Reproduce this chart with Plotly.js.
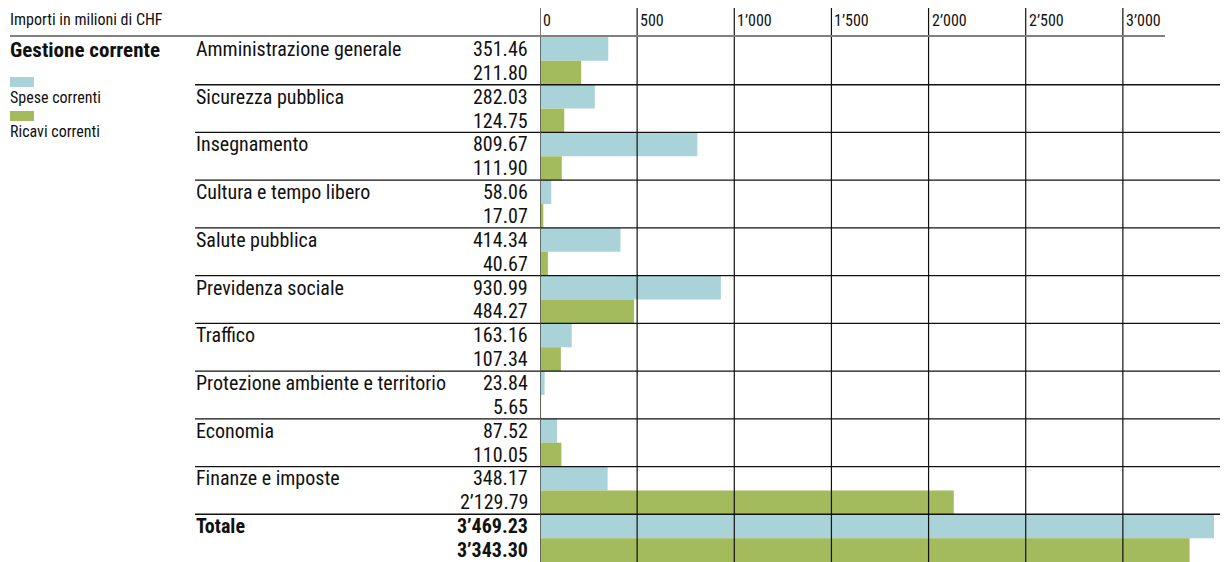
<!DOCTYPE html>
<html>
<head>
<meta charset="utf-8">
<script src="https://cdn.plot.ly/plotly-3.0.1.min.js"></script>
<style>html,body{margin:0;padding:0;background:#fff;}#chart{width:1226px;height:562px;}</style>
</head>
<body>
<div id="chart"></div>
<script>
const categories = ["Amministrazione generale","Sicurezza pubblica","Insegnamento","Cultura e tempo libero","Salute pubblica","Previdenza sociale","Traffico","Protezione ambiente e territorio","Economia","Finanze e imposte","Totale"];
const spese = [351.46,282.03,809.67,58.06,414.34,930.99,163.16,23.84,87.52,348.17,3469.23];
const ricavi = [211.80,124.75,111.90,17.07,40.67,484.27,107.34,5.65,110.05,2129.79,3343.30];
const tickVals = [0,500,1000,1500,2000,2500,3000];
const tickLabels = ["0","500","1’000","1’500","2’000","2’500","3’000"];
const seriesNames = ["Spese correnti","Ricavi correnti"];
const axisTitle = "Importi in milioni di CHF";
const sectionTitle = "Gestione corrente";

const FONT = "Roboto Condensed, DejaVu Sans Condensed, sans-serif";
const BLUE = "#a9d3d9";
const GREEN = "#a3ba5d";
const L = 540, W = 680, T = 37, H = 525;
const px = v => (v - L) / W;          // pixel x -> paper x
const py = v => 1 - (v - T) / H;      // pixel y -> paper y

function fmt(v){
  const s = v.toFixed(2);
  const [i,d] = s.split(".");
  return i.replace(/\B(?=(\d{3})+(?!\d))/g, "’") + "." + d;
}

const n = categories.length;
const yS = categories.map((c,i)=>2*i+0.5);
const yR = categories.map((c,i)=>2*i+1.5);

const traces = [
  {type:"bar", orientation:"h", x:spese, y:yS, width:1, marker:{color:BLUE, line:{width:0}}, name:seriesNames[0], hoverinfo:"x"},
  {type:"bar", orientation:"h", x:ricavi, y:yR, width:1, marker:{color:GREEN, line:{width:0}}, name:seriesNames[1], hoverinfo:"x"}
];

const annotations = [];
const shapes = [];

categories.forEach((c,i)=>{
  const bold = (i === n-1);
  const f = {family:FONT, size:20, color:"#111"};
  annotations.push({xref:"paper", yref:"y", x:px(194), y:yS[i], xanchor:"left", yanchor:"middle",
    text: bold ? "<b>"+c+"</b>" : c, showarrow:false, font:f});
  annotations.push({xref:"paper", yref:"y", x:px(530), y:yS[i], xanchor:"right", yanchor:"middle",
    text: bold ? "<b>"+fmt(spese[i])+"</b>" : fmt(spese[i]), showarrow:false, font:f});
  annotations.push({xref:"paper", yref:"y", x:px(530), y:yR[i], xanchor:"right", yanchor:"middle",
    text: bold ? "<b>"+fmt(ricavi[i])+"</b>" : fmt(ricavi[i]), showarrow:false, font:f});
  if (i > 0) {
    shapes.push({type:"line", xref:"paper", yref:"y", x0:px(195), x1:1, y0:2*i, y1:2*i,
      line:{color:"#111", width:1.3}, layer:"above"});
  }
});

tickVals.forEach((v,k)=>{
  shapes.push({type:"line", xref:"x", yref:"paper", x0:v, x1:v, y0:0, y1:py(8),
    line:{color: v===0 ? "#555" : "#111", width: v===0 ? 1.6 : 1.2}, layer:"above"});
  annotations.push({xref:"x", yref:"paper", x:v, y:py(21), xanchor:"left", yanchor:"middle", xshift:1,
    text:tickLabels[k], showarrow:false, font:{family:FONT, size:16, color:"#111"}});
});

// top header rule
shapes.push({type:"line", xref:"paper", yref:"paper", x0:px(10), x1:px(1165), y0:py(36), y1:py(36),
  line:{color:"#808080", width:2}, layer:"above"});

// header texts
annotations.push({xref:"paper", yref:"paper", x:px(8), y:py(19), xanchor:"left", yanchor:"middle",
  text:axisTitle, showarrow:false, font:{family:FONT, size:16, color:"#111"}});
annotations.push({xref:"paper", yref:"paper", x:px(8), y:py(50), xanchor:"left", yanchor:"middle",
  text:"<b>"+sectionTitle+"</b>", showarrow:false, font:{family:FONT, size:21, color:"#111"}});

// legend
[[BLUE,77,97],[GREEN,111,131]].forEach((s,k)=>{
  shapes.push({type:"rect", xref:"paper", yref:"paper", x0:px(10), x1:px(34), y0:py(s[1]+10), y1:py(s[1]),
    fillcolor:s[0], line:{width:0}, layer:"above"});
  annotations.push({xref:"paper", yref:"paper", x:px(8), y:py(s[2]), xanchor:"left", yanchor:"middle",
    text:seriesNames[k], showarrow:false, font:{family:FONT, size:16, color:"#111"}});
});

const layout = {
  width:1226, height:562,
  margin:{l:L, r:1226-L-W, t:T, b:562-T-H, pad:0},
  paper_bgcolor:"#fff", plot_bgcolor:"#fff",
  showlegend:false,
  barmode:"overlay",
  xaxis:{range:[0,3500], showgrid:false, zeroline:false, showticklabels:false, ticks:"", fixedrange:true},
  yaxis:{range:[2*n,0], showgrid:false, zeroline:false, showticklabels:false, ticks:"", fixedrange:true},
  annotations:annotations,
  shapes:shapes
};

Plotly.newPlot("chart", traces, layout, {displayModeBar:false, staticPlot:true});
</script>
</body>
</html>
